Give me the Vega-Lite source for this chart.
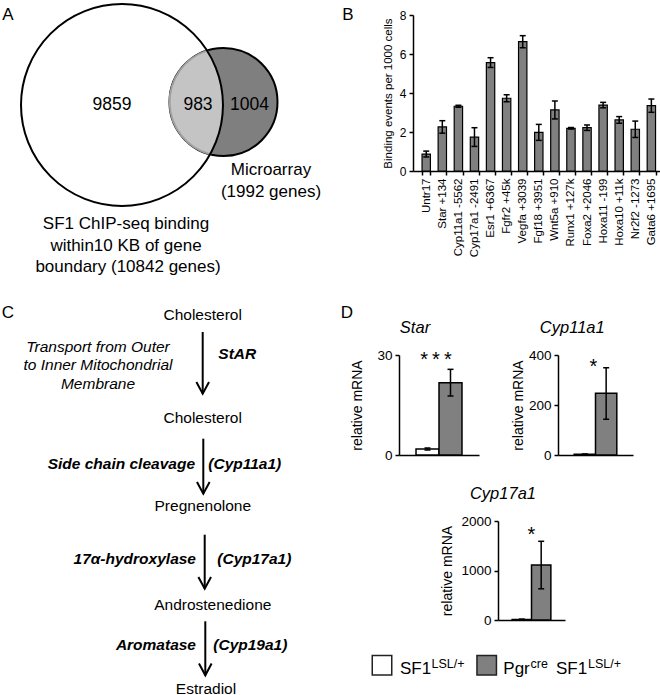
{
  "$schema": "https://vega.github.io/schema/vega-lite/v6.json",
  "padding": 0,
  "background": "white",
  "bounds": "flush",
  "spacing": 353,
  "datasets": {
    "binding": [
      {"site": "Untr17", "value": 0.87, "lo": 0.72, "hi": 1.02},
      {"site": "Star +134", "value": 2.26, "lo": 1.94, "hi": 2.58},
      {"site": "Cyp11a1 -5562", "value": 3.32, "lo": 3.27, "hi": 3.37},
      {"site": "Cyp17a1 -2491", "value": 1.74, "lo": 1.26, "hi": 2.22},
      {"site": "Esr1 +6367", "value": 5.56, "lo": 5.31, "hi": 5.81},
      {"site": "Fgfr2 +45k", "value": 3.73, "lo": 3.55, "hi": 3.91},
      {"site": "Vegfa +3039", "value": 6.63, "lo": 6.32, "hi": 6.94},
      {"site": "Fgf18 +3951", "value": 1.98, "lo": 1.57, "hi": 2.39},
      {"site": "Wnt5a +910", "value": 3.13, "lo": 2.67, "hi": 3.59},
      {"site": "Runx1 +127k", "value": 2.19, "lo": 2.15, "hi": 2.23},
      {"site": "Foxa2 +2046", "value": 2.22, "lo": 2.08, "hi": 2.36},
      {"site": "Hoxa11 -199", "value": 3.38, "lo": 3.24, "hi": 3.52},
      {"site": "Hoxa10 +11k", "value": 2.62, "lo": 2.45, "hi": 2.79},
      {"site": "Nr2f2 -1273", "value": 2.14, "lo": 1.72, "hi": 2.56},
      {"site": "Gata6 +1695", "value": 3.35, "lo": 3.01, "hi": 3.69}
    ],
    "qpcr": [
      {"gene": "Star", "genotype": "SF1 LSL/+", "value": 1.8, "lo": 1.5, "hi": 2.1},
      {"gene": "Star", "genotype": "Pgr cre SF1 LSL/+", "value": 21.7, "lo": 17.7, "hi": 25.7},
      {"gene": "Cyp11a1", "genotype": "SF1 LSL/+", "value": 3, "lo": 2, "hi": 4},
      {"gene": "Cyp11a1", "genotype": "Pgr cre SF1 LSL/+", "value": 247, "lo": 143, "hi": 349},
      {"gene": "Cyp17a1", "genotype": "SF1 LSL/+", "value": 12, "lo": 6, "hi": 18},
      {"gene": "Cyp17a1", "genotype": "Pgr cre SF1 LSL/+", "value": 1110, "lo": 630, "hi": 1590}
    ],
    "signif": [
      {"gene": "Star", "genotype": "Pgr cre SF1 LSL/+", "label": "*\u2009*\u2009*", "y": 30},
      {"gene": "Cyp11a1", "genotype": "Pgr cre SF1 LSL/+", "label": "*", "y": 372},
      {"gene": "Cyp17a1", "genotype": "Pgr cre SF1 LSL/+", "label": "*", "y": 1812}
    ]
  },
  "vconcat": [
    {
      "spacing": 0,
      "bounds": "flush",
      "hconcat": [
        {
          "width": 413,
          "height": 353,
          "encoding": {
            "x": {"field": "x", "type": "quantitative", "scale": {"domain": [0, 413], "nice": false, "zero": false}, "axis": null},
            "y": {"field": "y", "type": "quantitative", "scale": {"domain": [0, 353], "nice": false, "zero": false, "reverse": true}, "axis": null}
          },
          "layer": [
            {
              "data": {"values": [{"set": "Microarray", "x": 223.5, "y": 100, "r": 54}]},
              "mark": {"type": "point", "shape": "circle", "filled": true, "fill": "#7f7f7f", "stroke": "black", "strokeWidth": 2, "opacity": 1},
              "encoding": {"size": {"field": "r", "type": "quantitative", "scale": {"type": "pow", "exponent": 2, "domain": [0, 101], "range": [0, 40804], "nice": false, "zero": true}, "legend": null}}
            },
            {
              "data": {"values": [{"set": "Overlap", "x": 223.5, "y": 100, "r": 54}]},
              "mark": {"type": "point", "shape": "M-0.3037,-0.9519A1,1,0,0,0,-0.2481,0.9685A1.8704,1.8704,0,0,0,-0.3037,-0.9519Z", "filled": true, "fill": "#c4c4c4", "stroke": "#a0a0a0", "strokeWidth": 2, "opacity": 1},
              "encoding": {"size": {"field": "r", "type": "quantitative", "scale": {"type": "pow", "exponent": 2, "domain": [0, 101], "range": [0, 40804], "nice": false, "zero": true}, "legend": null}}
            },
            {
              "data": {"values": [{"set": "SF1 ChIP-seq", "x": 122, "y": 103, "r": 101}]},
              "mark": {"type": "point", "shape": "circle", "filled": false, "stroke": "black", "strokeWidth": 2, "opacity": 1},
              "encoding": {"size": {"field": "r", "type": "quantitative", "scale": {"type": "pow", "exponent": 2, "domain": [0, 101], "range": [0, 40804], "nice": false, "zero": true}, "legend": null}}
            },
            {
              "data": {"values": [
                {"x": 112, "y": 103, "text": "9859"},
                {"x": 198, "y": 103, "text": "983"},
                {"x": 249.5, "y": 103, "text": "1004"}
              ]},
              "mark": {"type": "text", "fontSize": 17.5, "align": "center", "baseline": "middle"},
              "encoding": {"text": {"field": "text"}}
            },
            {
              "data": {"values": [
                {"x": 271, "y": 168, "text": "Microarray"},
                {"x": 271, "y": 190, "text": "(1992 genes)"},
                {"x": 126, "y": 222, "text": "SF1 ChIP-seq binding"},
                {"x": 126, "y": 243.5, "text": "within10 KB of gene"},
                {"x": 128, "y": 265, "text": "boundary (10842 genes)"}
              ]},
              "mark": {"type": "text", "fontSize": 17, "align": "center", "baseline": "middle"},
              "encoding": {"text": {"field": "text"}}
            },
            {
              "data": {"values": [
                {"x": 8, "y": 12.5, "text": "A"},
                {"x": 348, "y": 12.5, "text": "B"}
              ]},
              "mark": {"type": "text", "fontSize": 17, "align": "center", "baseline": "middle"},
              "encoding": {"text": {"field": "text"}}
            }
          ]
        },
        {
          "width": 247,
          "height": 169,
          "data": {"name": "binding"},
          "encoding": {
            "x": {
              "field": "site", "type": "nominal", "sort": null,
              "scale": {"paddingInner": 0.48, "paddingOuter": 0.42, "align": 0.67},
              "axis": {"title": null, "labelAngle": -90, "labelFontSize": 11.5, "tickBand": "extent", "tickSize": 4, "labelPadding": 3, "domainWidth": 1.5, "tickWidth": 1.5}
            }
          },
          "layer": [
            {
              "mark": {"type": "bar", "fill": "#808080", "stroke": "black", "strokeWidth": 1.2},
              "encoding": {
                "y": {
                  "field": "value", "type": "quantitative", "title": "Binding events per 1000 cells",
                  "scale": {"domain": [0, 8], "range": [169, 13], "nice": false},
                  "axis": {"values": [0, 1, 2, 3, 4, 5, 6, 7, 8], "tickSize": 4, "labelPadding": 3, "labelFontSize": 12, "titleFontSize": 11.5, "titlePadding": 6, "domainWidth": 1.5, "tickWidth": 1.5}
                }
              }
            },
            {
              "mark": {"type": "rule", "color": "black", "strokeWidth": 1.5},
              "encoding": {"y": {"field": "lo", "type": "quantitative", "title": "Binding events per 1000 cells"}, "y2": {"field": "hi"}}
            },
            {
              "mark": {"type": "tick", "color": "black", "thickness": 1.5, "size": 6, "opacity": 1},
              "encoding": {"y": {"field": "lo", "type": "quantitative", "title": "Binding events per 1000 cells"}}
            },
            {
              "mark": {"type": "tick", "color": "black", "thickness": 1.5, "size": 6, "opacity": 1},
              "encoding": {"y": {"field": "hi", "type": "quantitative", "title": "Binding events per 1000 cells"}}
            }
          ]
        }
      ]
    },
    {
      "spacing": 0,
      "bounds": "flush",
      "hconcat": [
        {
          "width": 399,
          "height": 342,
          "encoding": {
            "x": {"field": "x", "type": "quantitative", "scale": {"domain": [0, 399], "nice": false, "zero": false}, "axis": null},
            "y": {"field": "y", "type": "quantitative", "scale": {"domain": [353, 695], "nice": false, "zero": false, "reverse": true}, "axis": null}
          },
          "layer": [
            {
              "data": {"values": [
                {"x": 202.7, "y": 330, "y2": 391.7},
                {"x": 203.3, "y": 436.7, "y2": 491.7},
                {"x": 204.7, "y": 532.7, "y2": 586.7},
                {"x": 205.3, "y": 619.3, "y2": 673.3}
              ]},
              "layer": [
                {"mark": {"type": "rule", "color": "black", "strokeWidth": 2}, "encoding": {"y2": {"field": "y2"}}},
                {"mark": {"type": "point", "shape": "M-0.54,-1L0,0L0.54,-1", "filled": false, "stroke": "black", "strokeWidth": 2, "size": 548, "opacity": 1},
                 "encoding": {"y": {"field": "y2", "type": "quantitative"}}}
              ]
            },
            {
              "data": {"values": [
                {"x": 202.7, "y": 312.7, "text": "Cholesterol"},
                {"x": 202.7, "y": 416, "text": "Cholesterol"},
                {"x": 202.8, "y": 504.3, "text": "Pregnenolone"},
                {"x": 212.8, "y": 603.3, "text": "Androstenedione"},
                {"x": 206, "y": 686.5, "text": "Estradiol"}
              ]},
              "mark": {"type": "text", "fontSize": 15.5, "align": "center", "baseline": "middle"},
              "encoding": {"text": {"field": "text"}}
            },
            {
              "data": {"values": [
                {"x": 98, "y": 345, "text": "Transport from Outer"},
                {"x": 98, "y": 363.3, "text": "to Inner Mitochondrial"},
                {"x": 98, "y": 381.7, "text": "Membrane"}
              ]},
              "mark": {"type": "text", "fontSize": 15.5, "fontStyle": "italic", "align": "center", "baseline": "middle"},
              "encoding": {"text": {"field": "text"}}
            },
            {
              "data": {"values": [
                {"x": 218.3, "y": 352.3, "text": "StAR"},
                {"x": 208.3, "y": 462.3, "text": "(Cyp11a1)"},
                {"x": 217.3, "y": 556.7, "text": "(Cyp17a1)"},
                {"x": 213.3, "y": 642.7, "text": "(Cyp19a1)"}
              ]},
              "mark": {"type": "text", "fontSize": 15.5, "fontStyle": "italic", "fontWeight": "bold", "align": "left", "baseline": "middle"},
              "encoding": {"text": {"field": "text"}}
            },
            {
              "data": {"values": [
                {"x": 195, "y": 462.3, "text": "Side chain cleavage"},
                {"x": 196, "y": 556.7, "text": "17α-hydroxylase"},
                {"x": 196, "y": 642.7, "text": "Aromatase"}
              ]},
              "mark": {"type": "text", "fontSize": 15.5, "fontStyle": "italic", "fontWeight": "bold", "align": "right", "baseline": "middle"},
              "encoding": {"text": {"field": "text"}}
            },
            {
              "data": {"values": [
                {"x": 8, "y": 311, "text": "C"},
                {"x": 347, "y": 311, "text": "D"}
              ]},
              "mark": {"type": "text", "fontSize": 17, "align": "center", "baseline": "middle"},
              "encoding": {"text": {"field": "text"}}
            }
          ]
        },
        {
          "spacing": 166,
          "bounds": "flush",
          "vconcat": [
            {
              "spacing": 79,
              "bounds": "flush",
              "hconcat": [
                {
                  "width": 80,
                  "height": 100,
                  "title": {"text": "Star", "fontStyle": "italic", "fontSize": 16.5, "fontWeight": "normal", "anchor": "middle", "frame": "bounds", "offset": 12},
                  "data": {"name": "qpcr"},
                  "encoding": {
                    "x": {"field": "genotype", "type": "nominal", "scale": {"domain": ["SF1 LSL/+", "Pgr cre SF1 LSL/+"], "paddingInner": 0, "paddingOuter": 0.74}, "axis": {"title": null, "labels": false, "ticks": false, "domainWidth": 1.5}}
                  },
                  "layer": [
                    {
                      "transform": [{"filter": "datum.gene === 'Star'"}],
                      "mark": {"type": "bar", "stroke": "black", "strokeWidth": 1.5},
                      "encoding": {
                        "fill": {"field": "genotype", "type": "nominal", "scale": {"domain": ["SF1 LSL/+", "Pgr cre SF1 LSL/+"], "range": ["white", "#808080"]}, "legend": null},
                        "y": {"field": "value", "type": "quantitative", "title": "relative mRNA", "scale": {"domain": [0, 30], "nice": false},
                              "axis": {"values": [0, 10, 20, 30], "format": "d", "tickSize": 4, "labelPadding": 3, "labelFontSize": 13.5, "titleFontSize": 14, "titlePadding": 12, "domainWidth": 1.5, "tickWidth": 1.5}}
                      }
                    },
                    {
                      "transform": [{"filter": "datum.gene === 'Star'"}],
                      "mark": {"type": "rule", "color": "black", "strokeWidth": 1.5},
                      "encoding": {"y": {"field": "lo", "type": "quantitative", "title": "relative mRNA"}, "y2": {"field": "hi"}}
                    },
                    {
                      "transform": [{"filter": "datum.gene === 'Star'"}],
                      "mark": {"type": "tick", "color": "black", "thickness": 1.5, "size": 6, "opacity": 1},
                      "encoding": {"y": {"field": "lo", "type": "quantitative", "title": "relative mRNA"}}
                    },
                    {
                      "transform": [{"filter": "datum.gene === 'Star'"}],
                      "mark": {"type": "tick", "color": "black", "thickness": 1.5, "size": 6, "opacity": 1},
                      "encoding": {"y": {"field": "hi", "type": "quantitative", "title": "relative mRNA"}}
                    },
                    {
                      "data": {"name": "signif"},
                      "transform": [{"filter": "datum.gene === 'Star'"}],
                      "mark": {"type": "text", "fontSize": 20, "baseline": "middle", "align": "center", "dy": 5, "dx": -3},
                      "encoding": {"x": {"field": "genotype", "type": "nominal", "bandPosition": 0}, "y": {"field": "y", "type": "quantitative", "title": "relative mRNA"}, "text": {"field": "label"}}
                    }
                  ]
                },
                {
                  "width": 75,
                  "height": 100,
                  "title": {"text": "Cyp11a1", "fontStyle": "italic", "fontSize": 16.5, "fontWeight": "normal", "anchor": "middle", "frame": "bounds", "offset": 12},
                  "data": {"name": "qpcr"},
                  "encoding": {
                    "x": {"field": "genotype", "type": "nominal", "scale": {"domain": ["SF1 LSL/+", "Pgr cre SF1 LSL/+"], "paddingInner": 0, "paddingOuter": 0.76}, "axis": {"title": null, "labels": false, "ticks": false, "domainWidth": 1.5}}
                  },
                  "layer": [
                    {
                      "transform": [{"filter": "datum.gene === 'Cyp11a1'"}],
                      "mark": {"type": "bar", "stroke": "black", "strokeWidth": 1.5},
                      "encoding": {
                        "fill": {"field": "genotype", "type": "nominal", "scale": {"domain": ["SF1 LSL/+", "Pgr cre SF1 LSL/+"], "range": ["white", "#808080"]}, "legend": null},
                        "y": {"field": "value", "type": "quantitative", "title": "relative mRNA", "scale": {"domain": [0, 400], "nice": false},
                              "axis": {"values": [0, 100, 200, 300, 400], "format": "d", "tickSize": 4, "labelPadding": 3, "labelFontSize": 13.5, "titleFontSize": 14, "titlePadding": 3, "domainWidth": 1.5, "tickWidth": 1.5}}
                      }
                    },
                    {
                      "transform": [{"filter": "datum.gene === 'Cyp11a1'"}],
                      "mark": {"type": "rule", "color": "black", "strokeWidth": 1.5},
                      "encoding": {"y": {"field": "lo", "type": "quantitative", "title": "relative mRNA"}, "y2": {"field": "hi"}}
                    },
                    {
                      "transform": [{"filter": "datum.gene === 'Cyp11a1'"}],
                      "mark": {"type": "tick", "color": "black", "thickness": 1.5, "size": 6, "opacity": 1},
                      "encoding": {"y": {"field": "lo", "type": "quantitative", "title": "relative mRNA"}}
                    },
                    {
                      "transform": [{"filter": "datum.gene === 'Cyp11a1'"}],
                      "mark": {"type": "tick", "color": "black", "thickness": 1.5, "size": 6, "opacity": 1},
                      "encoding": {"y": {"field": "hi", "type": "quantitative", "title": "relative mRNA"}}
                    },
                    {
                      "data": {"name": "signif"},
                      "transform": [{"filter": "datum.gene === 'Cyp11a1'"}],
                      "mark": {"type": "text", "fontSize": 20, "baseline": "middle", "align": "center", "dy": 5, "dx": -2},
                      "encoding": {"x": {"field": "genotype", "type": "nominal", "bandPosition": 0}, "y": {"field": "y", "type": "quantitative", "title": "relative mRNA"}, "text": {"field": "label"}}
                    }
                  ]
                }
              ]
            },
            {
              "spacing": 126,
              "bounds": "flush",
              "vconcat": [
                {
                  "spacing": 0,
                  "bounds": "flush",
                  "hconcat": [
                    {
                      "width": 99,
                      "height": 10,
                      "data": {"values": [{"blank": ""}]},
                      "mark": {"type": "text", "text": ""}
                    },
                    {
                      "width": 67,
                      "height": 99,
                      "title": {"text": "Cyp17a1", "fontStyle": "italic", "fontSize": 16.5, "fontWeight": "normal", "anchor": "middle", "frame": "bounds", "offset": 12},
                      "data": {"name": "qpcr"},
                      "encoding": {
                        "x": {"field": "genotype", "type": "nominal", "scale": {"domain": ["SF1 LSL/+", "Pgr cre SF1 LSL/+"], "paddingInner": 0, "paddingOuter": 0.73}, "axis": {"title": null, "labels": false, "ticks": false, "domainWidth": 1.5}}
                      },
                      "layer": [
                        {
                          "transform": [{"filter": "datum.gene === 'Cyp17a1'"}],
                          "mark": {"type": "bar", "stroke": "black", "strokeWidth": 1.5},
                          "encoding": {
                            "fill": {"field": "genotype", "type": "nominal", "scale": {"domain": ["SF1 LSL/+", "Pgr cre SF1 LSL/+"], "range": ["white", "#808080"]}, "legend": null},
                            "y": {"field": "value", "type": "quantitative", "title": "relative mRNA", "scale": {"domain": [0, 2000], "nice": false},
                                  "axis": {"values": [0, 500, 1000, 1500, 2000], "format": "d", "tickSize": 4, "labelPadding": 3, "labelFontSize": 13.5, "titleFontSize": 14, "titlePadding": 6, "domainWidth": 1.5, "tickWidth": 1.5}}
                          }
                        },
                        {
                          "transform": [{"filter": "datum.gene === 'Cyp17a1'"}],
                          "mark": {"type": "rule", "color": "black", "strokeWidth": 1.5},
                          "encoding": {"y": {"field": "lo", "type": "quantitative", "title": "relative mRNA"}, "y2": {"field": "hi"}}
                        },
                        {
                          "transform": [{"filter": "datum.gene === 'Cyp17a1'"}],
                          "mark": {"type": "tick", "color": "black", "thickness": 1.5, "size": 6, "opacity": 1},
                          "encoding": {"y": {"field": "lo", "type": "quantitative", "title": "relative mRNA"}}
                        },
                        {
                          "transform": [{"filter": "datum.gene === 'Cyp17a1'"}],
                          "mark": {"type": "tick", "color": "black", "thickness": 1.5, "size": 6, "opacity": 1},
                          "encoding": {"y": {"field": "hi", "type": "quantitative", "title": "relative mRNA"}}
                        },
                        {
                          "data": {"name": "signif"},
                          "transform": [{"filter": "datum.gene === 'Cyp17a1'"}],
                          "mark": {"type": "text", "fontSize": 20, "baseline": "middle", "align": "center", "dy": 5, "dx": 0},
                          "encoding": {"x": {"field": "genotype", "type": "nominal", "bandPosition": 0}, "y": {"field": "y", "type": "quantitative", "title": "relative mRNA"}, "text": {"field": "label"}}
                        }
                      ]
                    }
                  ]
                },
                {
                  "width": 261,
                  "height": 30,
                  "encoding": {
                    "x": {"field": "x", "type": "quantitative", "scale": {"domain": [399, 660], "nice": false, "zero": false}, "axis": null},
                    "y": {"field": "y", "type": "quantitative", "scale": {"domain": [645, 675], "nice": false, "zero": false, "reverse": true}, "axis": null}
                  },
                  "layer": [
                    {
                      "data": {"values": [
                        {"genotype": "SF1 LSL/+", "x": 382, "y": 663.3},
                        {"genotype": "Pgr cre SF1 LSL/+", "x": 486.7, "y": 663.3}
                      ]},
                      "mark": {"type": "point", "shape": "square", "filled": true, "size": 380, "stroke": "#222222", "strokeWidth": 1.5, "opacity": 1},
                      "encoding": {"fill": {"field": "genotype", "type": "nominal", "scale": {"domain": ["SF1 LSL/+", "Pgr cre SF1 LSL/+"], "range": ["white", "#808080"]}, "legend": null}}
                    },
                    {
                      "data": {"values": [
                        {"x": 400, "y": 672, "text": "SF1"},
                        {"x": 503.3, "y": 672, "text": "Pgr"},
                        {"x": 556, "y": 672, "text": "SF1"}
                      ]},
                      "mark": {"type": "text", "fontSize": 17, "align": "left", "baseline": "alphabetic"},
                      "encoding": {"text": {"field": "text"}}
                    },
                    {
                      "data": {"values": [
                        {"x": 431.5, "y": 665.5, "text": "LSL/+"},
                        {"x": 530.5, "y": 665.5, "text": "cre"},
                        {"x": 588, "y": 665.5, "text": "LSL/+"}
                      ]},
                      "mark": {"type": "text", "fontSize": 12.5, "align": "left", "baseline": "alphabetic"},
                      "encoding": {"text": {"field": "text"}}
                    }
                  ]
                }
              ]
            }
          ]
        }
      ]
    }
  ],
  "config": {
    "view": {"stroke": null},
    "font": "Liberation Sans",
    "text": {"font": "Liberation Sans", "color": "black"},
    "axis": {"domainColor": "black", "tickColor": "black", "labelColor": "black", "titleColor": "black", "labelFont": "Liberation Sans", "titleFont": "Liberation Sans", "titleFontWeight": "normal", "grid": false},
    "title": {"font": "Liberation Sans", "color": "black"}
  }
}
